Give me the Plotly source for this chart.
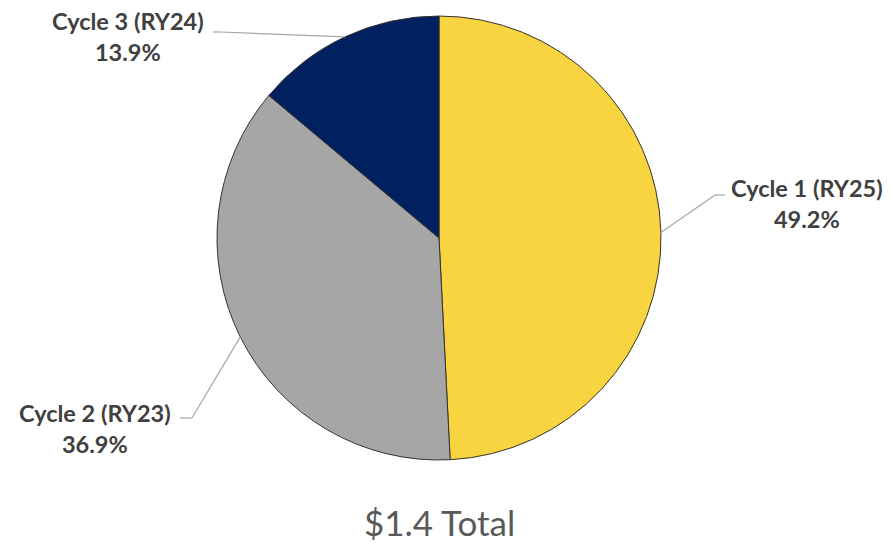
import math
import plotly.graph_objects as go

# Share of the $1.4 total by review cycle
labels = ["Cycle 1 (RY25)", "Cycle 2 (RY23)", "Cycle 3 (RY24)"]
shares = [49.2, 36.9, 13.9]
colors = ["#F9D441", "#A6A6A6", "#002060"]
total_label = "$1.4 Total"

W, H = 893, 546
CX, CY, R = 439, 238, 222  # pie centre and radius in pixels

fig = go.Figure(
    go.Pie(
        labels=labels,
        values=shares,
        sort=False,
        direction="clockwise",
        rotation=0,
        marker=dict(colors=colors, line=dict(color="#333333", width=1)),
        textinfo="none",
        hoverinfo="label+percent",
        domain=dict(x=[(CX - R) / W, (CX + R) / W], y=[1 - (CY + R) / H, 1 - (CY - R) / H]),
    )
)

# Outside labels with leader lines, anchored at each slice's mid-angle
label_font = dict(family="Lato, Carlito, sans-serif", size=23.5, color="#404040")
placements = [
    dict(elbow=(715, 195), end=(725, 195), text=(807, 203)),
    dict(elbow=(192, 418), end=(180, 418), text=(95, 428)),
    dict(elbow=(220, 32), end=(213, 32), text=(128, 37)),
]

def px(x, y):
    return x / W, 1 - y / H

cum = 0.0
tot = sum(shares)
for lab, v, pl in zip(labels, shares, placements):
    mid = (cum + v / 2) / tot * 2 * math.pi
    cum += v
    ax = CX + R * math.sin(mid)
    ay = CY - R * math.cos(mid)
    pts = [(ax, ay), pl["elbow"], pl["end"]]
    for (x0, y0), (x1, y1) in zip(pts[:-1], pts[1:]):
        a0, b0 = px(x0, y0)
        a1, b1 = px(x1, y1)
        fig.add_shape(type="line", xref="paper", yref="paper", x0=a0, y0=b0, x1=a1, y1=b1,
                      line=dict(color="#A6A6A6", width=1.2))
    tx, ty = px(*pl["text"])
    fig.add_annotation(x=tx, y=ty, xref="paper", yref="paper", showarrow=False,
                       text=f"<b>{lab}</b><br><b>{v:.1f}%</b>", font=label_font,
                       align="center", xanchor="center", yanchor="middle")

fig.add_annotation(x=CX / W, y=1 - 522 / H, xref="paper", yref="paper", showarrow=False,
                   text=total_label, xanchor="center", yanchor="middle",
                   font=dict(family="Lato, Carlito, sans-serif", size=35, color="#595959"))

fig.update_layout(
    width=W, height=H,
    margin=dict(l=0, r=0, t=0, b=0),
    paper_bgcolor="white",
    plot_bgcolor="white",
    showlegend=False,
)

fig.write_html("out.html")
